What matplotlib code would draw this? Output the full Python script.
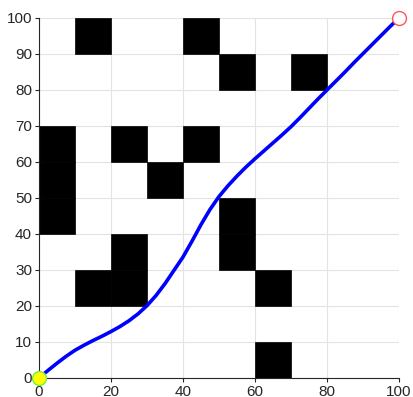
import matplotlib
matplotlib.use('Agg')
import matplotlib.pyplot as plt

# obstacle cells (lower-left corners, 10x10 each)
obs_x = [10, 40, 50, 70, 0, 0, 0, 20, 40, 30, 50, 50, 20, 20, 10, 60, 60]
obs_y = [90, 90, 80, 80, 40, 50, 60, 60, 60, 50, 30, 40, 30, 20, 20, 20, 0]

# planned path
path_x = [0, 2.5, 5, 7.5, 10, 12.5, 15, 17.5, 20, 22.5, 25, 27.5, 30, 32.5, 35,
          37.5, 40, 42.5, 45, 47.5, 50, 52.5, 55, 57.5, 60, 62.5, 65, 67.5,
          70, 72.5, 75, 77.5, 80, 82.5, 85, 87.5, 90, 92.5, 95, 97.5, 100]
path_y = [0, 2.1, 4.1, 6.0, 7.7, 9.1, 10.4, 11.6, 12.9, 14.3, 15.9, 17.8, 20.1,
          22.9, 26.2, 29.9, 33.6, 38.0, 42.6, 46.8, 50.4, 53.4, 56.1, 58.6,
          60.9, 63.1, 65.3, 67.5, 69.8, 72.3, 74.9, 77.5, 80.0, 82.5, 85.0,
          87.6, 90.1, 92.6, 95.1, 97.6, 100]

start = (0, 0)
goal = (100, 100)

plt.rcParams['font.family'] = ['Liberation Sans', 'DejaVu Sans']

fig = plt.figure(figsize=(4.13, 3.97), dpi=100)
ax = fig.add_axes([0.0944, 0.0479, 0.8717, 0.9068])

ax.bar(obs_x, [10] * len(obs_x), width=10, bottom=obs_y, align='edge',
       color='black', edgecolor='black', linewidth=0.5, zorder=2)

ax.plot(path_x, path_y, color='#0000ff', linewidth=2.6, zorder=3,
        solid_capstyle='round', solid_joinstyle='round')
ax.plot(*start, 'o', markersize=10, markerfacecolor='#ffff00',
        markeredgecolor='#77ee44', markeredgewidth=1, zorder=4, clip_on=False)
ax.plot(*goal, 'o', markersize=10, markerfacecolor='white',
        markeredgecolor='#ff5555', markeredgewidth=1, zorder=4, clip_on=False)

ax.set_xlim(0, 100)
ax.set_ylim(0, 100)
ax.set_xticks(range(0, 101, 20))
ax.set_yticks(range(0, 101, 10))
ax.grid(True, color='#e3e3e3', linewidth=0.8, zorder=0)
ax.set_axisbelow(True)
for s in ['top', 'right']:
    ax.spines[s].set_visible(False)
for s in ['left', 'bottom']:
    ax.spines[s].set_color('#262626')
    ax.spines[s].set_linewidth(0.8)
ax.tick_params(direction='out', length=3, width=0.8, colors='#262626',
               labelsize=11, pad=2)

fig.savefig('out.png', dpi=100)
